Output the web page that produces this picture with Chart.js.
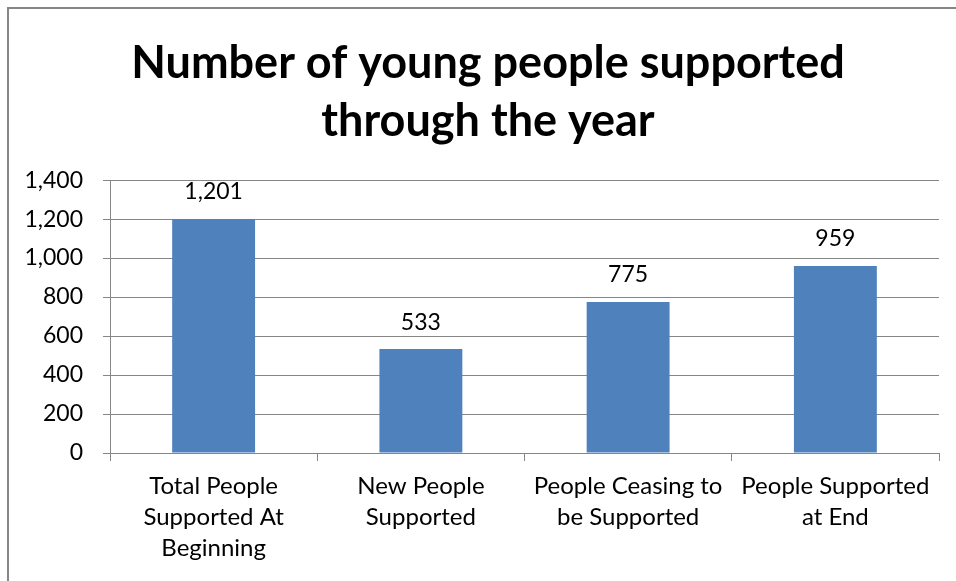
<!DOCTYPE html>
<html>
<head>
<meta charset="utf-8">
<script src="https://cdn.jsdelivr.net/npm/chart.js@4.4.1/dist/chart.umd.min.js"></script>
<style>
  html, body { margin: 0; padding: 0; background: #fff; overflow: hidden; }
  #frame { position: absolute; left: 7px; top: 7px; width: 2000px; height: 2000px;
           border-left: 2px solid #868686; border-top: 2px solid #868686; }
  #wrap { position: absolute; left: 0; top: 0; width: 956px; height: 581px; }
</style>
</head>
<body>
<div id="frame"></div>
<div id="wrap"><canvas id="myChart"></canvas></div>
<script>
var categories = [
  ['Total People', 'Supported At', 'Beginning'],
  ['New People', 'Supported'],
  ['People Ceasing to', 'be Supported'],
  ['People Supported', 'at End']
];
var supported = [1201, 533, 775, 959];
var yTicks = [0, 200, 400, 600, 800, 1000, 1200, 1400];

var FONT = 'Lato, "DejaVu Sans", sans-serif';
var GRID = '#868686';

// values above the bars
var barLabels = {
  id: 'barLabels',
  afterDatasetsDraw: function(chart) {
    var ctx = chart.ctx;
    var meta = chart.getDatasetMeta(0);
    ctx.save();
    ctx.font = '23px ' + FONT;
    ctx.fillStyle = '#000';
    ctx.textAlign = 'center';
    ctx.textBaseline = 'middle';
    meta.data.forEach(function(bar, i) {
      ctx.fillText(supported[i].toLocaleString('en-US'), bar.x, bar.y - 27);
    });
    ctx.restore();
  }
};

function getChart() {
  var ctx = document.getElementById('myChart').getContext('2d');
  var myChart = new Chart(ctx, {
    type: 'bar',
    data: {
      labels: categories,
      datasets: [{
        label: 'Supported',
        data: supported,
        backgroundColor: '#4F81BD',
        borderWidth: 0,
        barPercentage: 0.4,
        categoryPercentage: 1
      }]
    },
    options: {
      responsive: true,
      maintainAspectRatio: false,
      animation: false,
      layout: { padding: { left: 20, right: 0, top: 0, bottom: 0 } },
      plugins: {
        legend: { display: false },
        tooltip: { enabled: false },
        title: {
          display: true,
          text: ['Number of young people supported', 'through the year'],
          color: '#000',
          font: { family: FONT, size: 45, weight: 'bold', lineHeight: 1.29 },
          padding: { top: 34, bottom: 30 }
        }
      },
      scales: {
        x: {
          afterFit: function(scale) { scale.height = 128; },
          grid: { offset: true, drawOnChartArea: false, drawTicks: true, tickLength: 8, color: GRID },
          border: { color: GRID, width: 1 },
          ticks: {
            color: '#000',
            maxRotation: 0,
            autoSkip: false,
            padding: 10,
            font: { family: FONT, size: 24, lineHeight: 1.29 }
          }
        },
        y: {
          min: 0,
          max: 1400,
          afterFit: function(scale) { scale.width = 90; },
          afterBuildTicks: function(scale) {
            scale.ticks = yTicks.map(function(v) { return { value: v }; });
          },
          grid: { color: GRID, tickLength: 7 },
          border: { color: GRID, width: 1 },
          ticks: {
            color: '#000',
            padding: 20,
            font: { family: FONT, size: 23 },
            callback: function(v) { return v.toLocaleString('en-US'); }
          }
        },
        // empty strip on the right so the plot ends before the title's right edge
        yRight: {
          position: 'right',
          afterFit: function(scale) { scale.width = 17; },
          grid: { display: false },
          border: { display: false },
          ticks: { display: false }
        }
      }
    },
    plugins: [barLabels]
  });
}

getChart();
</script>
</body>
</html>
